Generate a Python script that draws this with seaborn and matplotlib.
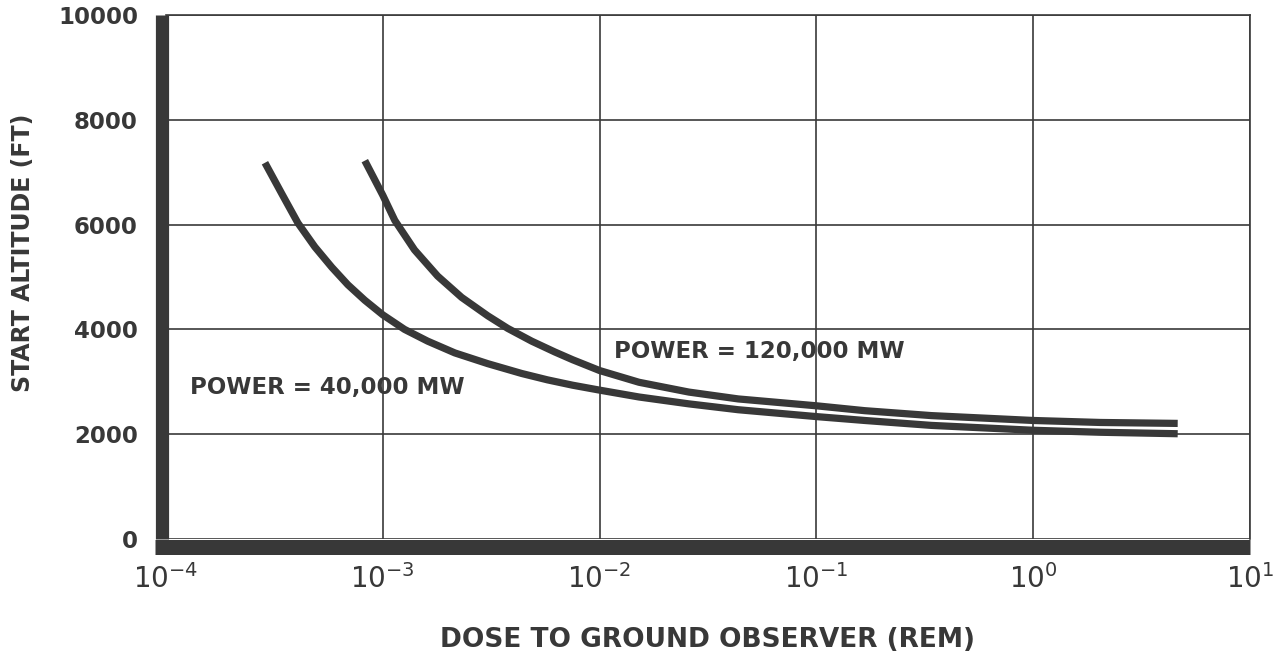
import numpy as np
import pandas as pd
import matplotlib
matplotlib.use("Agg")
import matplotlib.pyplot as plt
from matplotlib.ticker import NullLocator
import seaborn as sns

# ---- data ----
dose_40k = [2.86e-4, 3.43e-4, 4.06e-4, 4.86e-4, 5.82e-4, 6.90e-4, 8.26e-4,
            1.0e-3, 1.26e-3, 1.61e-3, 2.15e-3, 3.05e-3, 4.37e-3, 5.75e-3,
            7.51e-3, 1.0e-2, 1.52e-2, 2.58e-2, 4.36e-2, 0.1, 0.167, 0.339,
            1.0, 2.04, 4.64]
alt_40k = [7180, 6580, 6030, 5574, 5185, 4852, 4556,
           4278, 4000, 3776, 3551, 3346, 3159, 3037,
           2935, 2841, 2710, 2579, 2467, 2336, 2262, 2168,
           2075, 2037, 2009]

dose_120k = [8.26e-4, 1.0e-3, 1.136e-3, 1.40e-3, 1.79e-3, 2.31e-3, 3.05e-3,
             3.77e-3, 4.86e-3, 6.21e-3, 7.51e-3, 1.0e-2, 1.52e-2, 2.58e-2,
             4.36e-2, 0.1, 0.167, 0.339, 1.0, 2.04, 4.64]
alt_120k = [7220, 6560, 6080, 5518, 5018, 4611, 4259,
            4019, 3776, 3570, 3421, 3215, 2991, 2804,
            2673, 2542, 2449, 2355, 2262, 2224, 2206]

series_names = ["POWER = 40,000 MW", "POWER = 120,000 MW"]
x_ticks = [1e-4, 1e-3, 1e-2, 1e-1, 1e0, 1e1]
y_ticks = [0, 2000, 4000, 6000, 8000, 10000]
x_label = "DOSE TO GROUND OBSERVER (REM)"
y_label = "START ALTITUDE (FT)"

df = pd.concat([
    pd.DataFrame({"dose": dose_40k, "alt": alt_40k, "series": series_names[0]}),
    pd.DataFrame({"dose": dose_120k, "alt": alt_120k, "series": series_names[1]}),
], ignore_index=True)

# ---- style ----
sns.set_style("white")
plt.rcParams["font.family"] = ["DejaVu Sans"]
ink = "#383838"

fig = plt.figure(figsize=(12.76, 6.6), dpi=100)
ax = fig.add_axes([166 / 1276, 1 - 539 / 660, (1250 - 166) / 1276, (539 - 15) / 660])

sns.lineplot(data=df, x="dose", y="alt", hue="series",
             palette={series_names[0]: ink, series_names[1]: ink},
             linewidth=5.2, legend=False, sort=False, estimator=None, ax=ax)
for ln in ax.lines:
    ln.set_solid_capstyle("butt")
    ln.set_solid_joinstyle("round")

ax.set_xscale("log")
ax.set_xlim(1e-4, 10)
ax.set_ylim(0, 10000)
ax.set_xticks(x_ticks)
ax.set_yticks(y_ticks)
ax.xaxis.set_minor_locator(NullLocator())
ax.grid(True, which="major", color="#3a3a3a", linewidth=1.2)
ax.set_axisbelow(True)

for s in ["top", "right"]:
    ax.spines[s].set_linewidth(1.2)
    ax.spines[s].set_color("#3a3a3a")
ax.spines["left"].set_linewidth(9.5)
ax.spines["left"].set_color(ink)
ax.spines["left"].set_position(("outward", 3.2))
ax.spines["left"].set_capstyle("butt")
ax.spines["bottom"].set_linewidth(10.8)
ax.spines["bottom"].set_color(ink)
ax.spines["bottom"].set_position(("outward", 5.4))
ax.spines["bottom"].set_capstyle("butt")
ax.spines["bottom"].set_bounds(10 ** (-4 - 11 / 217), 10)

ax.tick_params(axis="y", length=0, pad=17, labelsize=16.5, labelcolor=ink)
ax.tick_params(axis="x", length=0, pad=12.5, labelsize=20, labelcolor=ink)
for t in ax.get_yticklabels():
    t.set_fontweight("bold")

ax.set_xlabel(x_label, fontsize=19, fontweight="bold", color=ink, labelpad=24)
ax.set_ylabel(y_label, fontsize=17, fontweight="bold", color=ink)
ax.yaxis.set_label_coords((35 - 166) / 1084, (539 - 253) / 524)

ax.text(1.29e-4, 2900, series_names[0], fontsize=16.5, fontweight="bold",
        color=ink, ha="left", va="center")
ax.text(1.17e-2, 3570, series_names[1], fontsize=16.5, fontweight="bold",
        color=ink, ha="left", va="center")

fig.savefig("out.png", dpi=100, facecolor="white")
